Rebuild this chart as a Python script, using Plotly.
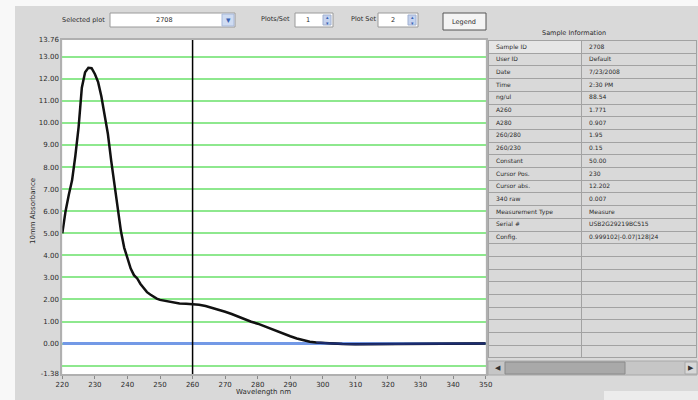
import plotly.graph_objects as go

# ---------------- data ----------------
wavelength = [220, 221, 222, 223, 224, 225, 226, 227, 228, 229, 230, 231, 232, 233, 234, 235,
              236, 237, 238, 239, 240, 241, 242, 243, 244, 245, 246, 247, 248, 249, 250, 252,
              254, 256, 258, 260, 262, 264, 266, 268, 270, 272, 274, 276, 278, 280, 282, 284,
              286, 288, 290, 292, 294, 296, 298, 300, 302, 304, 306, 310, 320, 330, 332, 333,
              336, 337, 345, 346, 350]
absorbance = [5.0, 6.0, 6.75, 7.4, 8.5, 9.8, 11.6, 12.3, 12.5, 12.48, 12.22, 11.85, 11.2, 10.4, 9.5, 8.3,
              7.2, 6.2, 5.1, 4.35, 3.85, 3.4, 3.1, 2.95, 2.7, 2.5, 2.33, 2.22, 2.12, 2.04, 1.98, 1.92,
              1.86, 1.82, 1.80, 1.78, 1.76, 1.70, 1.62, 1.53, 1.44, 1.34, 1.22, 1.10, 0.99, 0.90, 0.78, 0.66,
              0.54, 0.43, 0.33, 0.23, 0.15, 0.08, 0.05, 0.03, 0.02, 0.01, -0.02, -0.03, -0.03, -0.03, -0.03, 0.0,
              0.0, -0.03, -0.03, 0.0, 0.0]
tail_start_wl = 298

x_range = [220, 350]
y_range = [-1.38, 13.76]
x_ticks = list(range(220, 351, 10))
y_label_vals = [-1.38] + list(range(0, 14)) + [13.76]
y_label_text = ["-1.38"] + ["%.2f" % v for v in range(0, 14)] + ["13.76"]
grid_levels = list(range(-1, 14))
baseline_value = 0.0
marker_wl = 260

info_labels = ["Sample ID", "User ID", "Date", "Time", "ng/ul", "A260", "A280", "260/280",
               "260/230", "Constant", "Cursor Pos.", "Cursor abs.", "340 raw",
               "Measurement Type", "Serial #", "Config."]
info_values = ["2708", "Default", "7/23/2008", "2:30 PM", "88.54", "1.771", "0.907", "1.95",
               "0.15", "50.00", "230", "12.202", "0.007",
               "Measure", "USB2G29219BC515", "0.999102|-0.07|128|24"]
empty_rows = 9

# ---------------- helpers (pixel -> paper) ----------------
W, H = 698, 400
def fx(px):
    return px / W
def fy(py):
    return 1 - py / H

FONT = "DejaVu Sans"
TXT = "#2a2a2a"
PANEL = "#d9d9d9"
ROW_H = 12.7
TEXT_SHIFT = 4.5

fig = go.Figure()

# gridlines via overlay axis
fig.add_trace(go.Scatter(x=x_range, y=[None, None], yaxis="y2", showlegend=False, hoverinfo="skip"))

# baseline
fig.add_trace(go.Scatter(x=x_range, y=[baseline_value, baseline_value], mode="lines",
                         line=dict(color="#7399e6", width=3), showlegend=False, hoverinfo="skip"))

# cursor line
fig.add_trace(go.Scatter(x=[marker_wl, marker_wl], y=y_range, mode="lines",
                         line=dict(color="#000000", width=1.5), showlegend=False, hoverinfo="skip"))

# spectrum
fig.add_trace(go.Scatter(x=wavelength, y=absorbance, mode="lines",
                         line=dict(color="#111111", width=2.5), showlegend=False))
tail_x = [w for w in wavelength if w >= tail_start_wl]
tail_y = [a for w, a in zip(wavelength, absorbance) if w >= tail_start_wl]
fig.add_trace(go.Scatter(x=tail_x, y=tail_y, mode="lines",
                         line=dict(color="#1c2c70", width=2), showlegend=False))

# info table: grid
n_rows = len(info_labels) - 1 + empty_rows
fig.add_trace(go.Table(
    domain=dict(x=[fx(488), fx(697)], y=[fy(360), fy(40.5)]),
    columnwidth=[94, 116],
    header=dict(values=["", ""], height=ROW_H,
                fill_color=["#e6e6e6", PANEL], line=dict(color="#a2a2a2", width=1)),
    cells=dict(values=[[""] * n_rows, [""] * n_rows], height=ROW_H,
               fill_color=PANEL, line=dict(color="#a2a2a2", width=1)),
))
# info table: text
rows_l = info_labels[1:] + [""] * empty_rows
rows_v = info_values[1:] + [""] * empty_rows
fig.add_trace(go.Table(
    domain=dict(x=[fx(488), fx(697)], y=[fy(360 - TEXT_SHIFT), fy(40.5 - TEXT_SHIFT)]),
    columnwidth=[94, 116],
    header=dict(values=[info_labels[0], info_values[0]], align="left", height=ROW_H,
                fill_color="rgba(0,0,0,0)", line=dict(color="rgba(0,0,0,0)", width=0),
                font=dict(family=FONT, size=6, color=TXT)),
    cells=dict(values=[rows_l, rows_v], align="left", height=ROW_H,
               fill_color="rgba(0,0,0,0)", line=dict(color="rgba(0,0,0,0)", width=0),
               font=dict(family=FONT, size=6, color=TXT)),
))

shapes = []
# white outer strips
shapes.append(dict(type="rect", xref="paper", yref="paper", layer="below",
                   x0=fx(0), x1=fx(15), y0=fy(400), y1=fy(0), fillcolor="#f8f8f8", line=dict(width=0)))
shapes.append(dict(type="rect", xref="paper", yref="paper", layer="below",
                   x0=fx(0), x1=fx(698), y0=fy(6), y1=fy(0), fillcolor="#f8f8f8", line=dict(width=0)))
shapes.append(dict(type="rect", xref="paper", yref="paper", layer="below",
                   x0=fx(604), x1=fx(698), y0=fy(400), y1=fy(391),
                   fillcolor="#ececec", line=dict(width=0)))
# dropdown
shapes.append(dict(type="rect", xref="paper", yref="paper", x0=fx(110), x1=fx(235), y0=fy(27), y1=fy(13),
                   fillcolor="#ffffff", line=dict(color="#9a9a9a", width=1)))
shapes.append(dict(type="rect", xref="paper", yref="paper", x0=fx(222), x1=fx(234), y0=fy(26), y1=fy(14),
                   fillcolor="#cfdcf2", line=dict(color="#a8b8d8", width=1)))
# spinners
for bx0, bx1 in [(295, 333), (378, 418)]:
    shapes.append(dict(type="rect", xref="paper", yref="paper", x0=fx(bx0), x1=fx(bx1), y0=fy(27), y1=fy(13),
                       fillcolor="#ffffff", line=dict(color="#9a9a9a", width=1)))
    shapes.append(dict(type="rect", xref="paper", yref="paper", x0=fx(bx1 - 10), x1=fx(bx1 - 2), y0=fy(25), y1=fy(15),
                       fillcolor="#c4d2ee", line=dict(color="#a0b0d0", width=1)))
# legend button
shapes.append(dict(type="rect", xref="paper", yref="paper", x0=fx(443), x1=fx(486), y0=fy(30), y1=fy(13),
                   fillcolor="#f4f4f4", line=dict(color="#555555", width=1)))
# scrollbar
shapes.append(dict(type="rect", xref="paper", yref="paper", x0=fx(488), x1=fx(697), y0=fy(375), y1=fy(361),
                   fillcolor="#c6c6c6", line=dict(color="#a8a8a8", width=1)))
shapes.append(dict(type="rect", xref="paper", yref="paper", x0=fx(505), x1=fx(625), y0=fy(374), y1=fy(362),
                   fillcolor="#a9a9a9", line=dict(color="#8a8a8a", width=1)))
shapes.append(dict(type="rect", xref="paper", yref="paper", x0=fx(685), x1=fx(697), y0=fy(374), y1=fy(362),
                   fillcolor="#d8d8d8", line=dict(color="#a8a8a8", width=1)))

annotations = []
def label(text, px, py, size=7, xanchor="center", color=TXT, textangle=0):
    annotations.append(dict(text=text, x=fx(px), y=fy(py), xref="paper", yref="paper",
                            showarrow=False, xanchor=xanchor, yanchor="middle", textangle=textangle,
                            font=dict(family=FONT, size=size, color=color)))

label("Selected plot", 83, 20, size=6.5)
label("2708", 164, 20, size=6.5)
label("▾", 228, 20, size=9, color="#3a64b4")
label("Plots/Set", 275, 19, size=6.5)
label("1", 308, 20, size=6.5)
label("Plot Set", 363, 19, size=6.5)
label("2", 393, 20, size=6.5)
for bx1 in [333, 418]:
    label("▴", bx1 - 6, 17, size=5, color="#3a64b4")
    label("▾", bx1 - 6, 23, size=5, color="#3a64b4")
label("Legend", 464, 22, size=6.5)
label("Sample Information", 574, 33, size=6.5)
label("Wavelength nm", 263, 392)
label("10mm Absorbance", 33, 211, textangle=-90)
label("◀", 498, 368, size=7, color="#333333")
label("▶", 691, 368, size=7, color="#333333")

fig.update_layout(
    width=W, height=H,
    margin=dict(l=0, r=0, t=0, b=0),
    paper_bgcolor=PANEL,
    plot_bgcolor="#ffffff",
    showlegend=False,
    shapes=shapes,
    annotations=annotations,
    xaxis=dict(domain=[fx(62.3), fx(485.7)], range=x_range, tickvals=x_ticks,
               ticks="outside", ticklen=3, tickcolor="#888888", showgrid=False, zeroline=False,
               showline=True, linecolor="#b0b0b0", linewidth=1.5, mirror=True, automargin=False,
               tickfont=dict(family=FONT, size=7, color=TXT)),
    yaxis=dict(domain=[fy(374), fy(40)], range=y_range, tickvals=y_label_vals, ticktext=y_label_text,
               ticks="", showgrid=False, zeroline=False,
               showline=True, linecolor="#b0b0b0", linewidth=2, mirror=True, automargin=False,
               tickfont=dict(family=FONT, size=7, color=TXT)),
    yaxis2=dict(domain=[fy(374), fy(40)], range=y_range, overlaying="y", tickvals=grid_levels,
                showticklabels=False, showgrid=True, gridcolor="#8ee88e", gridwidth=1.5,
                zeroline=False, showline=False, ticks=""),
)

fig.write_html("out.html", config={"displayModeBar": False},
               post_script="document.body.style.margin='0';")
